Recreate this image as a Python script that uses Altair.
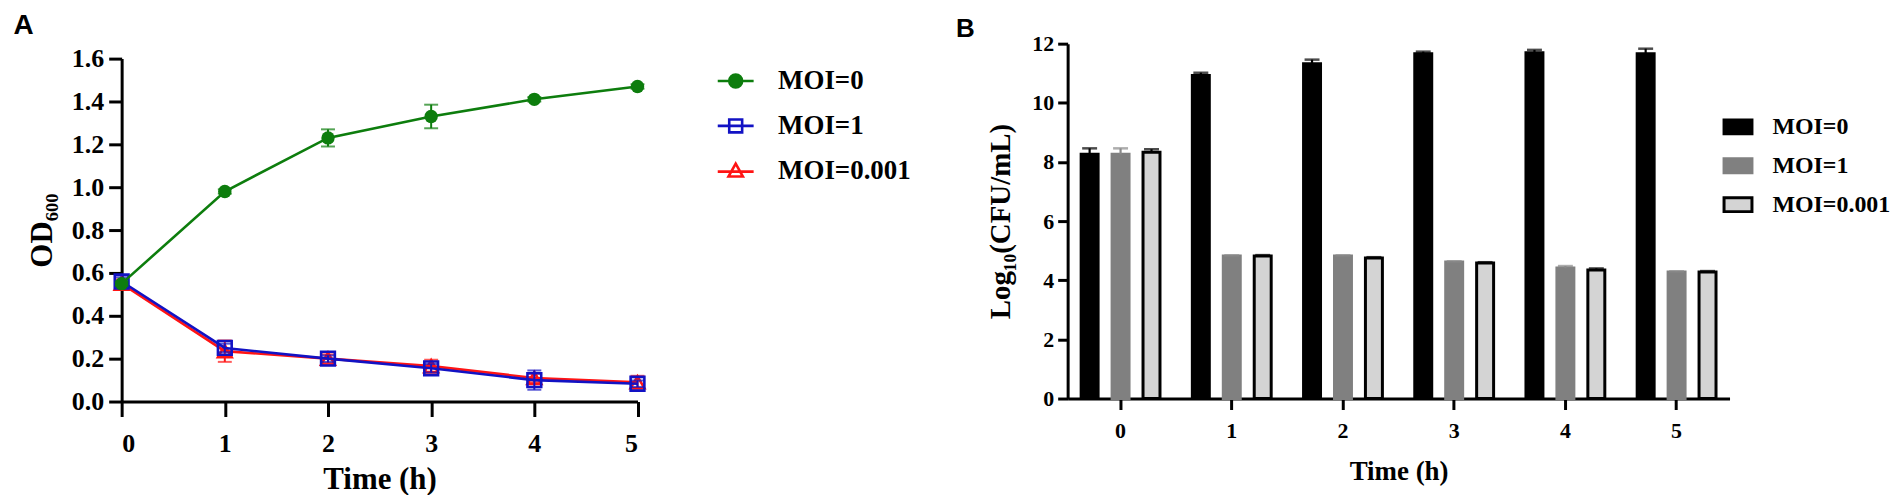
import altair as alt
import pandas as pd

# ---------------- data ----------------
times = [0, 1, 2, 3, 4, 5]
series = ["MOI=0", "MOI=1", "MOI=0.001"]

# Panel A: OD600 over time
od_moi0 = [0.55, 0.98, 1.23, 1.33, 1.41, 1.47]
od_moi0_err = [0.01, 0.01, 0.04, 0.055, 0.01, 0.01]
od_moi1 = [0.56, 0.25, 0.20, 0.155, 0.10, 0.083]
od_moi1_err = [0.02, 0.02, 0.015, 0.02, 0.045, 0.015]
od_moi0001 = [0.55, 0.235, 0.20, 0.165, 0.11, 0.09]
od_moi0001_err = [0.02, 0.05, 0.02, 0.03, 0.02, 0.03]

# Panel B: Log10(CFU/mL) over time
cfu_moi0 = [8.26, 10.92, 11.32, 11.66, 11.69, 11.66]
cfu_moi0_err = [0.2, 0.1, 0.14, 0.07, 0.1, 0.17]
cfu_moi1 = [8.26, 4.82, 4.82, 4.62, 4.41, 4.28]
cfu_moi1_err = [0.2, 0.02, 0.02, 0.02, 0.07, 0.02]
cfu_moi0001 = [8.33, 4.82, 4.75, 4.58, 4.35, 4.28]
cfu_moi0001_err = [0.1, 0.03, 0.03, 0.03, 0.05, 0.03]

y_ticks_a = [0.0, 0.2, 0.4, 0.6, 0.8, 1.0, 1.2, 1.4, 1.6]
y_ticks_b = [0, 2, 4, 6, 8, 10, 12]

# ---------------- tables ----------------
rows_a = []
for s, vals, errs in zip(series, [od_moi0, od_moi1, od_moi0001],
                         [od_moi0_err, od_moi1_err, od_moi0001_err]):
    for t, v, e in zip(times, vals, errs):
        rows_a.append(dict(time=t, series=s, od=v, lo=v - e, hi=v + e))
df_a = pd.DataFrame(rows_a)

rows_b = []
for s, vals, errs in zip(series, [cfu_moi0, cfu_moi1, cfu_moi0001],
                         [cfu_moi0_err, cfu_moi1_err, cfu_moi0001_err]):
    for t, v, e in zip(times, vals, errs):
        rows_b.append(dict(time=str(t), series=s, cfu=v, hi=v + e))
df_b = pd.DataFrame(rows_b)

SERIF = "Liberation Serif"
SANS = "Liberation Sans"

# ---------------- panel A ----------------
colors_a = ["#0d7d0d", "#1212c4", "#ff1414"]
shapes_a = ["circle", "square", "triangle-up"]
legend_paths_a = [
    "M-1,0H-0.36M0.36,0H1M-0.36,0A0.36,0.36,0,1,1,0.36,0A0.36,0.36,0,1,1,-0.36,0Z",
    "M-1,0H1M-0.36,-0.36H0.36V0.36H-0.36Z",
    "M-1,0.05H1M0,-0.4L0.4,0.32H-0.4Z",
]

A_H = 359
axis_x_a = alt.Axis(values=times, format="d", title="Time (h)", tickSize=15,
                    labelFontSize=26, labelPadding=14,
                    titleFontSize=31, titleX=258.75, titleY=78, titleBaseline="middle")
axis_y_a = alt.Axis(values=y_ticks_a, format=".1f", title="OD₆₀₀", tickSize=13,
                    labelFontSize=26, labelPadding=5,
                    titleFontSize=31, titleX=-79, titleY=187, titleBaseline="middle",
                    titleAngle=270)


def xa(field="time"):
    return alt.X(f"{field}:Q", scale=alt.Scale(domain=[0, 5], nice=False, zero=False),
                 axis=axis_x_a, title="Time (h)")


def ya(field):
    return alt.Y(f"{field}:Q", scale=alt.Scale(domain=[0, 1.6], nice=False, range=[A_H, 15]),
                 axis=axis_y_a, title="OD₆₀₀")


base_a = alt.Chart(df_a)
layers_a = []
for s, c, shp in reversed(list(zip(series, colors_a, shapes_a))):
    d = base_a.transform_filter(alt.datum.series == s)
    layers_a.append(d.mark_rule(color=c, strokeWidth=2).encode(x=xa(), y=ya("lo"), y2="hi:Q"))
    layers_a.append(d.mark_tick(color=c, orient="horizontal", size=14, thickness=2).encode(x=xa(), y=ya("hi")))
    layers_a.append(d.mark_tick(color=c, orient="horizontal", size=14, thickness=2).encode(x=xa(), y=ya("lo")))
    layers_a.append(d.mark_line(color=c, strokeWidth=2.6).encode(x=xa(), y=ya("od")))
    if shp == "circle":
        layers_a.append(d.mark_point(shape=shp, filled=True, color=c, size=180, opacity=1).encode(x=xa(), y=ya("od")))
    else:
        layers_a.append(d.mark_point(shape=shp, filled=False, color=c, size=190, strokeWidth=2.6,
                                     opacity=1).encode(x=xa(), y=ya("od")))

leg_a = alt.Legend(title=None, orient="none", legendX=596.5, legendY=18, padding=0,
                   labelFont=SERIF, labelFontWeight="bold", labelFontSize=27, labelColor="black",
                   symbolSize=1296, symbolStrokeWidth=2.6, symbolOpacity=1, labelOffset=23,
                   rowPadding=12)
carrier_a = base_a.mark_point(opacity=0, filled=True).encode(
    x=xa(), y=ya("od"),
    shape=alt.Shape("series:N", scale=alt.Scale(domain=series, range=legend_paths_a), legend=leg_a),
    stroke=alt.Stroke("series:N", scale=alt.Scale(domain=series, range=colors_a), legend=leg_a),
    fill=alt.Fill("series:N", scale=alt.Scale(domain=series, range=[colors_a[0], "transparent", "transparent"]),
                  legend=leg_a),
)
layers_a.append(carrier_a)

panel_a = alt.layer(*layers_a).properties(
    width=517.5, height=A_H,
    title=alt.TitleParams("A", anchor="start", frame="group", font=SANS, fontSize=28,
                          fontWeight="bold", color="black", dx=-108.5, dy=24, offset=6,
                          baseline="alphabetic"),
)

# ---------------- panel B ----------------
fills_b = ["#000000", "#808080", "#d4d4d4"]
strokes_b = ["#000000", "#808080", "#000000"]
err_colors_b = ["#000000", "#8a8a8a", "#000000"]

axis_x_b = alt.Axis(labelAngle=0, title="Time (h)", tickSize=11, labelFontSize=22,
                    labelPadding=11,
                    titleFontSize=27, titleX=332, titleY=73, titleBaseline="middle")
axis_y_b = alt.Axis(values=y_ticks_b, format="d", title="Log₁₀(CFU/mL)", tickSize=10,
                    labelFontSize=22, labelPadding=4,
                    titleFontSize=29, titleX=-67, titleY=178, titleBaseline="middle",
                    titleAngle=270)

xb = alt.X("time:O", sort=[str(t) for t in times],
           scale=alt.Scale(paddingInner=0.291, paddingOuter=0.1215), axis=axis_x_b, title="Time (h)")
xob = alt.XOffset("series:N", sort=series,
                  scale=alt.Scale(domain=series, paddingInner=0.4516, paddingOuter=0))


def yb(field):
    return alt.Y(f"{field}:Q", scale=alt.Scale(domain=[0, 12], nice=False), axis=axis_y_b,
                 title="Log₁₀(CFU/mL)")


leg_b = alt.Legend(title=None, orient="none", legendX=657, legendY=68, padding=0,
                   labelFont=SERIF, labelFontWeight="bold", labelFontSize=24, labelColor="black",
                   symbolType="M-1,-0.5H1V0.5H-1Z", symbolSize=784, symbolStrokeWidth=3,
                   symbolOpacity=1, labelOffset=19, rowPadding=10)

base_b = alt.Chart(df_b)
bars_b = base_b.mark_bar(strokeWidth=3, opacity=1).encode(
    x=xb, xOffset=xob, y=yb("cfu"),
    fill=alt.Fill("series:N", sort=series, scale=alt.Scale(domain=series, range=fills_b), legend=leg_b),
    stroke=alt.Stroke("series:N", sort=series, scale=alt.Scale(domain=series, range=strokes_b), legend=leg_b),
)
err_color = alt.Color("series:N", scale=alt.Scale(domain=series, range=err_colors_b), legend=None)
err_b = base_b.mark_rule(strokeWidth=2.2).encode(x=xb, xOffset=xob, y=yb("cfu"), y2="hi:Q", color=err_color)
cap_b = base_b.mark_tick(thickness=2.5, size=15).encode(x=xb, xOffset=xob, y=yb("hi"), color=err_color)

panel_b = alt.layer(bars_b, err_b, cap_b).properties(
    width=664, height=356,
    title=alt.TitleParams("B", anchor="start", frame="group", font=SANS, fontSize=26,
                          fontWeight="bold", color="black", dx=-112, dy=40, offset=10,
                          baseline="alphabetic"),
)

chart = alt.hconcat(panel_a, panel_b, spacing=431, bounds="flush").resolve_scale(
    color="independent", fill="independent", stroke="independent", shape="independent"
).resolve_legend(
    color="independent", fill="independent", stroke="independent", shape="independent"
).properties(
    padding={"left": 5, "top": 3, "right": 5, "bottom": 0},
    background="white",
).configure_view(stroke=None).configure_axis(
    labelFont=SERIF, labelFontWeight="bold", labelColor="black",
    titleFont=SERIF, titleFontWeight="bold", titleColor="black",
    domainColor="black", domainWidth=3, tickColor="black", tickWidth=3, grid=False,
)

chart.save("out.html", embed_options={"renderer": "svg", "actions": False})
